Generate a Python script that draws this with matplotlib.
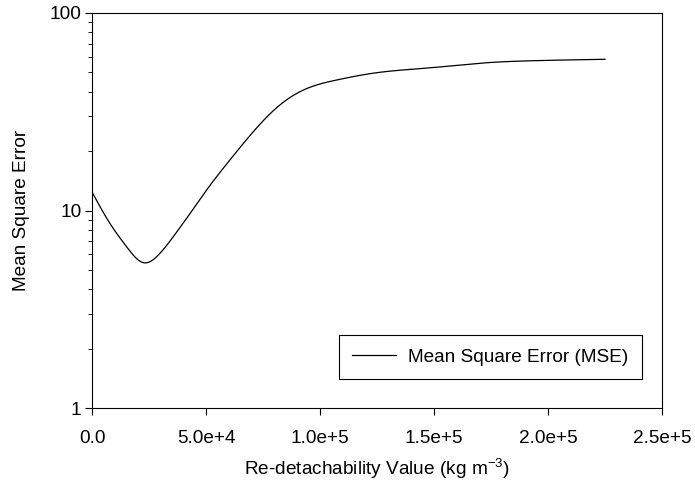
import matplotlib
matplotlib.use("Agg")
import matplotlib.pyplot as plt
import numpy as np
from matplotlib.ticker import FixedLocator, FixedFormatter, LogLocator, NullFormatter

plt.rcParams['font.family'] = ['Liberation Sans', 'DejaVu Sans']
plt.rcParams['font.size'] = 13.7
plt.rcParams['mathtext.fontset'] = 'custom'
plt.rcParams['mathtext.rm'] = 'Liberation Sans'

# values
redetach = [0, 7700, 15000, 22300, 29600, 38400, 44300, 50100, 58900, 71300,
            80000, 92500, 107200, 123300, 148300, 173000, 195000, 225000]
mse = [12.3, 8.6, 6.56, 5.45, 6.07, 8.2, 10.2, 12.7, 17.2, 25.6,
       32.5, 40.7, 45.8, 49.6, 52.8, 56.0, 57.4, 58.3]

x_ticks = [0, 5e4, 1e5, 1.5e5, 2e5, 2.5e5]
x_labels = ["0.0", "5.0e+4", "1.0e+5", "1.5e+5", "2.0e+5", "2.5e+5"]
y_ticks = [1, 10, 100]
y_labels = ["1", "10", "100"]


def natural_spline(x, y, n=600):
    # natural cubic spline through the read points
    x = np.asarray(x, float)
    y = np.asarray(y, float)
    k = len(x)
    h = np.diff(x)
    A = np.zeros((k, k))
    b = np.zeros(k)
    A[0, 0] = A[-1, -1] = 1
    for i in range(1, k - 1):
        A[i, i - 1] = h[i - 1]
        A[i, i] = 2 * (h[i - 1] + h[i])
        A[i, i + 1] = h[i]
        b[i] = 6 * ((y[i + 1] - y[i]) / h[i] - (y[i] - y[i - 1]) / h[i - 1])
    m = np.linalg.solve(A, b)
    xf = np.linspace(x[0], x[-1], n)
    idx = np.clip(np.searchsorted(x, xf) - 1, 0, k - 2)
    x0, x1 = x[idx], x[idx + 1]
    hh = x1 - x0
    a = (x1 - xf) / hh
    c = (xf - x0) / hh
    yf = (a * y[idx] + c * y[idx + 1]
          + ((a ** 3 - a) * m[idx] + (c ** 3 - c) * m[idx + 1]) * hh ** 2 / 6)
    return xf, yf


fig = plt.figure(figsize=(6.95, 4.9), dpi=100)
ax = fig.add_axes([0.133, 0.167, 0.8195, 0.8065])

cx, cy = natural_spline(redetach, np.log10(mse))
ax.plot(cx, 10 ** cy, color='black', lw=0.9, label='Mean Square Error (MSE)')

ax.set_yscale('log')
ax.set_xlim(0, 2.5e5)
ax.set_ylim(1, 100)
ax.xaxis.set_major_locator(FixedLocator(x_ticks))
ax.xaxis.set_major_formatter(FixedFormatter(x_labels))
ax.yaxis.set_major_locator(FixedLocator(y_ticks))
ax.yaxis.set_major_formatter(FixedFormatter(y_labels))
ax.yaxis.set_minor_locator(LogLocator(base=10, subs=np.arange(2, 10)))
ax.yaxis.set_minor_formatter(NullFormatter())

ax.tick_params(axis='both', which='major', direction='out', length=5, width=0.8, labelsize=13.7)
ax.tick_params(axis='y', which='major', pad=3)
ax.tick_params(axis='y', which='minor', direction='out', length=3, width=0.6)
ax.tick_params(axis='x', which='major', pad=11)
for s in ax.spines.values():
    s.set_linewidth(0.8)

ax.set_xlabel('Re-detachability Value (kg m$^{-3}$)', fontsize=13.7, labelpad=6)
ax.set_ylabel('Mean Square Error', fontsize=13.7, labelpad=14)

leg = ax.legend(loc='lower right', bbox_to_anchor=(0.965, 0.073), borderaxespad=0,
                fancybox=False, edgecolor='black', framealpha=1, fontsize=13.7,
                handlelength=2.3, handletextpad=0.65, borderpad=0.7)
leg.get_frame().set_linewidth(0.8)

fig.savefig('out.png', dpi=100)
